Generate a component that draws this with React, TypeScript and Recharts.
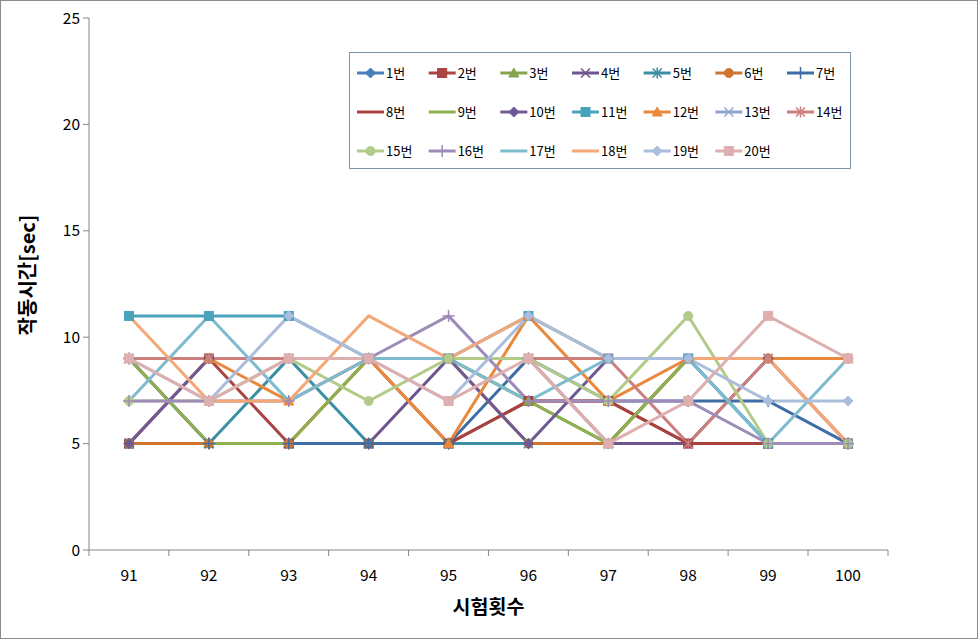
import React from 'react';
import { LineChart, Line, XAxis, YAxis, Legend } from 'recharts';

const trials = ['91', '92', '93', '94', '95', '96', '97', '98', '99', '100'];
const seriesNames = ['1번', '2번', '3번', '4번', '5번', '6번', '7번', '8번', '9번', '10번', '11번', '12번', '13번', '14번', '15번', '16번', '17번', '18번', '19번', '20번'];

const s1 = [5, 5, 5, 5, 5, 5, 5, 5, 5, 5];
const s2 = [5, 9, 5, 5, 5, 7, 7, 5, 5, 5];
const s3 = [9, 5, 5, 9, 9, 7, 5, 9, 9, 9];
const s4 = [5, 5, 5, 5, 9, 9, 5, 5, 9, 9];
const s5 = [5, 5, 9, 5, 5, 5, 5, 9, 5, 5];
const s6 = [5, 5, 5, 9, 9, 5, 5, 9, 9, 9];
const s7 = [9, 5, 5, 5, 5, 9, 7, 7, 7, 5];
const s8 = [9, 9, 9, 9, 5, 7, 7, 5, 5, 5];
const s9 = [9, 5, 5, 9, 9, 7, 5, 9, 9, 9];
const s10 = [5, 9, 9, 9, 9, 5, 9, 9, 9, 9];
const s11 = [11, 11, 11, 9, 9, 11, 9, 9, 5, 5];
const s12 = [9, 9, 7, 9, 5, 11, 7, 9, 9, 9];
const s13 = [9, 9, 9, 9, 9, 9, 9, 9, 9, 5];
const s14 = [9, 9, 9, 9, 9, 9, 9, 5, 9, 5];
const s15 = [7, 7, 9, 7, 9, 9, 7, 11, 5, 5];
const s16 = [7, 7, 7, 9, 11, 7, 7, 7, 5, 5];
const s17 = [7, 11, 7, 9, 9, 7, 9, 9, 5, 9];
const s18 = [11, 7, 7, 11, 9, 11, 9, 9, 9, 5];
const s19 = [9, 7, 11, 9, 7, 11, 9, 9, 7, 7];
const s20 = [9, 7, 9, 9, 7, 9, 5, 7, 11, 9];

const yTicks = [0, 5, 10, 15, 20, 25];

const allSeries = [s1, s2, s3, s4, s5, s6, s7, s8, s9, s10, s11, s12, s13, s14, s15, s16, s17, s18, s19, s20];

const colors = [
  '#4A7EBB', '#A94442', '#86A44C', '#6F5590', '#3A8FA5', '#D0752F', '#3F6DA5',
  '#A8423F', '#8FB052', '#705A94', '#4AA3BC', '#E8893E', '#8EA6CF', '#CC7F7D',
  '#B2CB89', '#9D8BB8', '#7EBBCF', '#F4A777', '#ABBDDC', '#DDAFAE',
];
const markers = [
  'diamond', 'square', 'triangle', 'x', 'star', 'circle', 'plus',
  'none', 'none', 'diamond', 'square', 'triangle', 'x', 'star',
  'circle', 'plus', 'none', 'none', 'diamond', 'square',
];

const data = trials.map((t, i) => {
  const row: Record<string, any> = { trial: t };
  allSeries.forEach((s, k) => {
    row['s' + (k + 1)] = s[i];
  });
  return row;
});

const FONT = "'Malgun Gothic', 'Noto Sans CJK KR', sans-serif";
const AXIS = '#868686';

function Marker({ type, x, y, color }: { type: string; x: number; y: number; color: string }) {
  switch (type) {
    case 'diamond':
      return <polygon points={`${x},${y - 5} ${x + 5},${y} ${x},${y + 5} ${x - 5},${y}`} fill={color} stroke={color} strokeWidth={1} />;
    case 'square':
      return <rect x={x - 4.5} y={y - 4.5} width={9} height={9} fill={color} stroke={color} strokeWidth={1} />;
    case 'triangle':
      return <polygon points={`${x},${y - 5} ${x + 5},${y + 4} ${x - 5},${y + 4}`} fill={color} stroke={color} strokeWidth={1} />;
    case 'circle':
      return <circle cx={x} cy={y} r={4.5} fill={color} stroke={color} strokeWidth={1} />;
    case 'x':
      return (
        <g stroke={color} strokeWidth={1.5}>
          <line x1={x - 4.5} y1={y - 4.5} x2={x + 4.5} y2={y + 4.5} />
          <line x1={x - 4.5} y1={y + 4.5} x2={x + 4.5} y2={y - 4.5} />
        </g>
      );
    case 'star':
      return (
        <g stroke={color} strokeWidth={1.5}>
          <line x1={x - 4.5} y1={y - 4.5} x2={x + 4.5} y2={y + 4.5} />
          <line x1={x - 4.5} y1={y + 4.5} x2={x + 4.5} y2={y - 4.5} />
          <line x1={x} y1={y - 5.5} x2={x} y2={y + 5.5} />
        </g>
      );
    case 'plus':
      return (
        <g stroke={color} strokeWidth={1.5}>
          <line x1={x - 6} y1={y} x2={x + 6} y2={y} />
          <line x1={x} y1={y - 6} x2={x} y2={y + 6} />
        </g>
      );
    default:
      return null;
  }
}

const makeDot = (k: number) => (p: any) => {
  const { cx, cy, index } = p;
  if (cx == null || cy == null) return <g key={`d${k}-${index}`} />;
  return (
    <g key={`d${k}-${index}`}>
      <Marker type={markers[k]} x={cx} y={cy} color={colors[k]} />
    </g>
  );
};

const XTick = (props: any) => {
  const { x, y, payload, index } = props;
  const half = 40;
  const axisY = 550;
  return (
    <g>
      <line x1={x - half} y1={axisY} x2={x - half} y2={axisY + 6} stroke={AXIS} />
      {index === trials.length - 1 && <line x1={x + half} y1={axisY} x2={x + half} y2={axisY + 6} stroke={AXIS} />}
      <text x={x} y={y} dy="0.71em" textAnchor="middle" fontSize={15.5} fill="#000" fontFamily={FONT}>
        {payload.value}
      </text>
    </g>
  );
};

const LegendBox = () => {
  const colW = 71.67;
  const rowH = 39;
  return (
    <svg width={502} height={117} style={{ display: 'block' }}>
      <rect x={0.5} y={0.5} width={501} height={116} fill="#fff" stroke="#7F93AE" strokeWidth={1} />
      {seriesNames.map((n, i) => {
        const col = i % 7;
        const row = Math.floor(i / 7);
        const lx = 8 + col * colW;
        const ly = 21 + row * rowH;
        return (
          <g key={n}>
            <line x1={lx} y1={ly} x2={lx + 27} y2={ly} stroke={colors[i]} strokeWidth={3} />
            <Marker type={markers[i]} x={lx + 13.5} y={ly} color={colors[i]} />
            <text x={lx + 29} y={ly} dy="0.36em" fontSize={13} fill="#000" fontFamily={FONT}>
              {n}
            </text>
          </g>
        );
      })}
    </svg>
  );
};

export default function App() {
  return (
    <div style={{ position: 'absolute', left: 0, top: 0, width: 978, height: 639, background: '#fff' }}>
      <LineChart
        width={978}
        height={639}
        data={data}
        margin={{ top: 18, right: 90, bottom: 0, left: 0 }}
        style={{ fontFamily: FONT }}
      >
        <XAxis
          dataKey="trial"
          height={89}
          padding={{ left: 40, right: 40 }}
          axisLine={{ stroke: AXIS }}
          tickLine={{ stroke: 'none' }}
          tickSize={6}
          tickMargin={14}
          tick={<XTick />}
          interval={0}
          label={(p: any) => {
            const vb = p.viewBox || {};
            return (
              <text x={(vb.x ?? 89) + (vb.width ?? 799) / 2} y={614} textAnchor="middle" fontSize={19.5} fontWeight="bold" fill="#000" fontFamily={FONT}>
                시험횟수
              </text>
            );
          }}
        />
        <YAxis
          width={89}
          domain={[0, 25]}
          ticks={yTicks}
          interval={0}
          axisLine={{ stroke: AXIS }}
          tickLine={{ stroke: AXIS }}
          tickSize={6}
          tickMargin={3}
          tick={{ fontSize: 15.5, fill: '#000', fontFamily: FONT }}
          label={(p: any) => (
            <text x={26} y={275} transform="rotate(-90 26 275)" textAnchor="middle" dominantBaseline="central" fontSize={20} fontWeight="bold" fill="#000" fontFamily={FONT}>
              작동시간[sec]
            </text>
          )}
        />
        <Legend
          verticalAlign="middle"
          align="center"
          content={<LegendBox />}
          wrapperStyle={{ position: 'absolute', left: 349, top: 52, width: 502, height: 117 }}
        />
        {allSeries.map((_, k) => (
          <Line
            key={k}
            type="linear"
            dataKey={'s' + (k + 1)}
            name={seriesNames[k]}
            stroke={colors[k]}
            strokeWidth={3}
            isAnimationActive={false}
            dot={markers[k] === 'none' ? false : makeDot(k)}
            activeDot={false}
          />
        ))}
      </LineChart>
      <div style={{ position: 'absolute', left: 0, top: 0, width: 978, height: 639, border: '1px solid #8C8C8C', boxSizing: 'border-box', pointerEvents: 'none' }} />
    </div>
  );
}
